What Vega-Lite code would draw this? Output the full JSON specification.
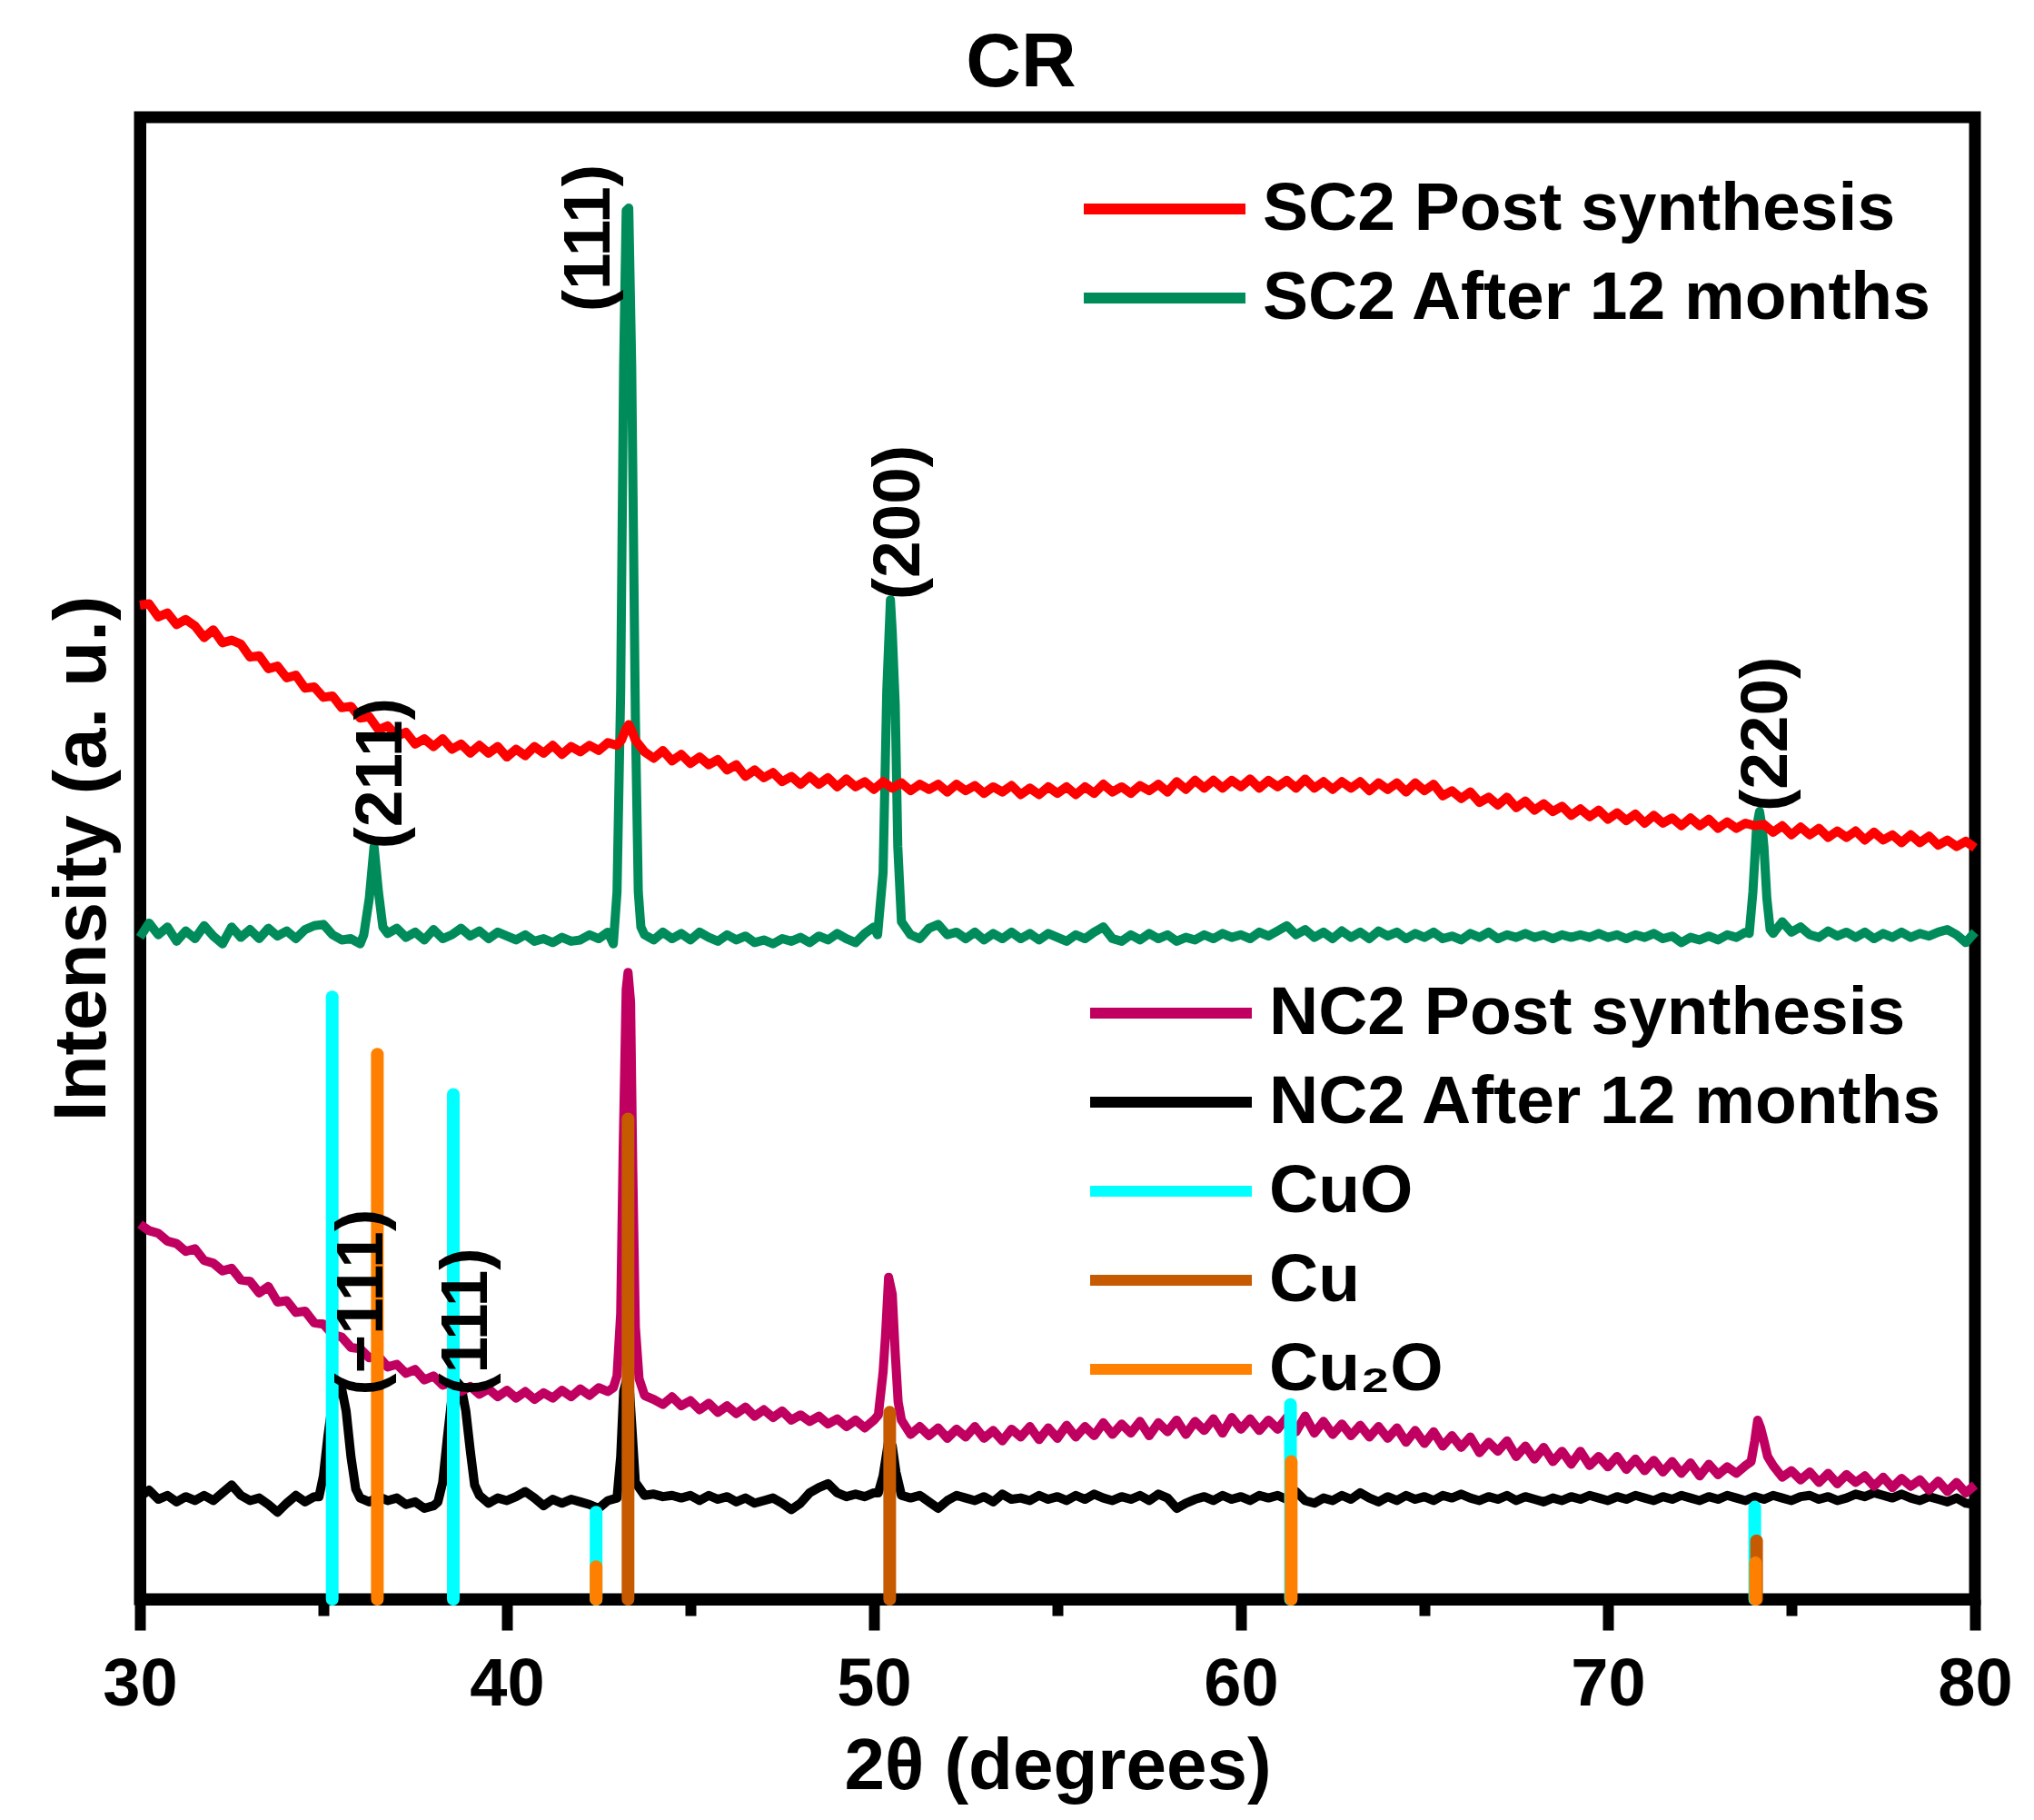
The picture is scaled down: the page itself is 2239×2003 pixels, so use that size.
{
  "$schema": "https://vega.github.io/schema/vega-lite/v6.json",
  "autosize": "none",
  "width": 2020,
  "height": 1631,
  "padding": {"left": 154, "top": 129, "right": 65, "bottom": 243},
  "background": "white",
  "title": {"text": "CR", "fontSize": 84, "fontWeight": "bold", "font": "Liberation Sans", "anchor": "middle", "color": "black", "offset": 16, "dx": -40},
  "config": {
    "font": "Liberation Sans",
    "view": {"stroke": "black", "strokeWidth": 13},
    "axis": {"grid": false, "domainColor": "black", "domainWidth": 13, "tickColor": "black", "labelColor": "black", "titleColor": "black", "labelFontWeight": "bold", "titleFontWeight": "bold"},
    "legend": {"orient": "none", "title": null, "symbolType": "M-1.854,0H1.854", "symbolSize": 9216, "symbolStrokeWidth": 12, "labelFontSize": 75, "labelFontWeight": "bold", "labelColor": "black", "labelOffset": 54, "labelLimit": 2000, "rowPadding": 6, "padding": 0}
  },
  "datasets": {
    "xrd": [
      {"t":30,"r":766,"g":510,"m":289,"k":79},{"t":30.25,"r":767,"g":521,"m":284,"k":84},{"t":30.5,"r":757,"g":512,"m":282,"k":77},{"t":30.75,"r":760,"g":518,"m":276,"k":80},
      {"t":31,"r":751,"g":507,"m":274,"k":75},{"t":31.25,"r":755,"g":515,"m":268,"k":79},{"t":31.5,"r":750,"g":509,"m":270,"k":76},{"t":31.75,"r":741,"g":519,"m":261,"k":80},
      {"t":32,"r":747,"g":511,"m":259,"k":76},{"t":32.25,"r":737,"g":505,"m":253,"k":82},{"t":32.5,"r":739,"g":518,"m":255,"k":88},{"t":32.75,"r":736,"g":510,"m":246,"k":80},
      {"t":33,"r":726,"g":516,"m":245,"k":76},{"t":33.25,"r":727,"g":509,"m":236,"k":78},{"t":33.5,"r":717,"g":517,"m":241,"k":73},{"t":33.75,"r":719,"g":511,"m":229,"k":67},
      {"t":34,"r":710,"g":515,"m":230,"k":74},{"t":34.25,"r":712,"g":509,"m":221,"k":80},{"t":34.5,"r":702,"g":516,"m":222,"k":75},{"t":34.75,"r":703,"g":519,"m":213,"k":79},
      {"t":35,"r":695,"g":520,"m":212,"k":95},{"t":35.25,"r":696,"g":512,"m":204,"k":152},{"t":35.5,"r":687,"g":508,"m":202,"k":162},{"t":35.75,"r":688,"g":509,"m":194,"k":110},
      {"t":36,"r":679,"g":505,"m":193,"k":78},{"t":36.25,"r":680,"g":540,"m":186,"k":75},{"t":36.5,"r":670,"g":545,"m":187,"k":79},{"t":36.75,"r":673,"g":513,"m":179,"k":76},
      {"t":37,"r":665,"g":517,"m":181,"k":78},{"t":37.25,"r":668,"g":510,"m":174,"k":73},{"t":37.5,"r":659,"g":514,"m":177,"k":75},{"t":37.75,"r":663,"g":508,"m":169,"k":70},
      {"t":38,"r":657,"g":516,"m":172,"k":72},{"t":38.25,"r":663,"g":509,"m":165,"k":90},{"t":38.5,"r":655,"g":512,"m":167,"k":155},{"t":38.75,"r":659,"g":517,"m":160,"k":164},
      {"t":39,"r":652,"g":511,"m":164,"k":115},{"t":39.25,"r":658,"g":515,"m":158,"k":80},{"t":39.5,"r":652,"g":509,"m":162,"k":74},{"t":39.75,"r":657,"g":514,"m":156,"k":78},
      {"t":40,"r":649,"g":511,"m":161,"k":76},{"t":40.25,"r":655,"g":508,"m":155,"k":79},{"t":40.5,"r":650,"g":512,"m":160,"k":83},{"t":40.75,"r":657,"g":507,"m":154,"k":78},
      {"t":41,"r":652,"g":509,"m":159,"k":72},{"t":41.25,"r":658,"g":506,"m":155,"k":77},{"t":41.5,"r":651,"g":510,"m":161,"k":74},{"t":41.75,"r":657,"g":507,"m":156,"k":77},
      {"t":42,"r":653,"g":508,"m":162,"k":75},{"t":42.25,"r":658,"g":512,"m":157,"k":73},{"t":42.5,"r":654,"g":509,"m":163,"k":70},{"t":42.75,"r":660,"g":514,"m":160,"k":76},
      {"t":43,"r":658,"g":545,"m":172,"k":78},{"t":43.25,"r":671,"g":1070,"m":470,"k":168},{"t":43.5,"r":662,"g":680,"m":210,"k":90},{"t":43.75,"r":653,"g":512,"m":157,"k":80},
      {"t":44,"r":648,"g":508,"m":154,"k":81},{"t":44.25,"r":654,"g":514,"m":150,"k":79},{"t":44.5,"r":646,"g":509,"m":156,"k":80},{"t":44.75,"r":651,"g":513,"m":149,"k":78},
      {"t":45,"r":644,"g":508,"m":153,"k":80},{"t":45.25,"r":649,"g":514,"m":146,"k":76},{"t":45.5,"r":643,"g":510,"m":151,"k":80},{"t":45.75,"r":647,"g":507,"m":144,"k":77},
      {"t":46,"r":639,"g":512,"m":149,"k":79},{"t":46.25,"r":643,"g":508,"m":143,"k":75},{"t":46.5,"r":634,"g":511,"m":148,"k":78},{"t":46.75,"r":639,"g":506,"m":141,"k":74},
      {"t":47,"r":633,"g":508,"m":146,"k":76},{"t":47.25,"r":637,"g":505,"m":140,"k":78},{"t":47.5,"r":630,"g":509,"m":145,"k":74},{"t":47.75,"r":634,"g":507,"m":138,"k":69},
      {"t":48,"r":628,"g":510,"m":142,"k":74},{"t":48.25,"r":634,"g":506,"m":137,"k":82},{"t":48.5,"r":628,"g":511,"m":141,"k":86},{"t":48.75,"r":633,"g":508,"m":135,"k":89},
      {"t":49,"r":626,"g":513,"m":139,"k":82},{"t":49.25,"r":632,"g":509,"m":133,"k":79},{"t":49.5,"r":626,"g":506,"m":138,"k":81},{"t":49.75,"r":630,"g":513,"m":132,"k":79},
      {"t":50,"r":624,"g":518,"m":138,"k":82},{"t":50.25,"r":630,"g":560,"m":175,"k":95},{"t":50.5,"r":625,"g":745,"m":235,"k":118},{"t":50.75,"r":629,"g":522,"m":138,"k":80},
      {"t":51,"r":623,"g":512,"m":127,"k":78},{"t":51.25,"r":628,"g":509,"m":133,"k":80},{"t":51.5,"r":624,"g":517,"m":126,"k":75},{"t":51.75,"r":628,"g":520,"m":132,"k":70},
      {"t":52,"r":622,"g":512,"m":124,"k":76},{"t":52.25,"r":628,"g":514,"m":131,"k":80},{"t":52.5,"r":623,"g":509,"m":125,"k":78},{"t":52.75,"r":627,"g":514,"m":133,"k":76},
      {"t":53,"r":621,"g":508,"m":124,"k":79},{"t":53.25,"r":626,"g":513,"m":130,"k":75},{"t":53.5,"r":622,"g":509,"m":122,"k":81},{"t":53.75,"r":627,"g":514,"m":131,"k":77},
      {"t":54,"r":620,"g":509,"m":125,"k":78},{"t":54.25,"r":625,"g":513,"m":133,"k":76},{"t":54.5,"r":620,"g":508,"m":123,"k":80},{"t":54.75,"r":626,"g":513,"m":132,"k":77},
      {"t":55,"r":621,"g":510,"m":124,"k":79},{"t":55.25,"r":626,"g":507,"m":134,"k":76},{"t":55.5,"r":620,"g":512,"m":125,"k":80},{"t":55.75,"r":626,"g":509,"m":133,"k":77},
      {"t":56,"r":621,"g":514,"m":126,"k":81},{"t":56.25,"r":628,"g":518,"m":136,"k":78},{"t":56.5,"r":622,"g":509,"m":127,"k":76},{"t":56.75,"r":626,"g":507,"m":135,"k":79},
      {"t":57,"r":621,"g":512,"m":128,"k":77},{"t":57.25,"r":627,"g":508,"m":137,"k":80},{"t":57.5,"r":623,"g":513,"m":126,"k":76},{"t":57.75,"r":628,"g":509,"m":136,"k":81},
      {"t":58,"r":622,"g":512,"m":129,"k":78},{"t":58.25,"r":630,"g":507,"m":138,"k":70},{"t":58.5,"r":624,"g":510,"m":127,"k":74},{"t":58.75,"r":631,"g":508,"m":137,"k":77},
      {"t":59,"r":625,"g":512,"m":130,"k":79},{"t":59.25,"r":631,"g":509,"m":139,"k":76},{"t":59.5,"r":625,"g":513,"m":128,"k":80},{"t":59.75,"r":631,"g":510,"m":140,"k":77},
      {"t":60,"r":626,"g":512,"m":131,"k":79},{"t":60.25,"r":632,"g":509,"m":139,"k":76},{"t":60.5,"r":625,"g":514,"m":130,"k":80},{"t":60.75,"r":631,"g":511,"m":138,"k":78},
      {"t":61,"r":626,"g":515,"m":131,"k":80},{"t":61.25,"r":631,"g":519,"m":140,"k":77},{"t":61.5,"r":625,"g":512,"m":129,"k":83},{"t":61.75,"r":632,"g":516,"m":141,"k":76},
      {"t":62,"r":625,"g":510,"m":128,"k":74},{"t":62.25,"r":630,"g":514,"m":137,"k":78},{"t":62.5,"r":624,"g":509,"m":127,"k":76},{"t":62.75,"r":630,"g":515,"m":135,"k":80},
      {"t":63,"r":625,"g":510,"m":126,"k":77},{"t":63.25,"r":630,"g":514,"m":134,"k":82},{"t":63.5,"r":623,"g":509,"m":125,"k":78},{"t":63.75,"r":629,"g":515,"m":133,"k":75},
      {"t":64,"r":624,"g":511,"m":124,"k":79},{"t":64.25,"r":629,"g":514,"m":132,"k":76},{"t":64.5,"r":622,"g":509,"m":121,"k":80},{"t":64.75,"r":629,"g":513,"m":130,"k":77},
      {"t":65,"r":623,"g":510,"m":120,"k":79},{"t":65.25,"r":628,"g":514,"m":129,"k":76},{"t":65.5,"r":619,"g":509,"m":118,"k":80},{"t":65.75,"r":623,"g":511,"m":126,"k":78},
      {"t":66,"r":617,"g":508,"m":117,"k":81},{"t":66.25,"r":622,"g":513,"m":125,"k":78},{"t":66.5,"r":614,"g":510,"m":113,"k":76},{"t":66.75,"r":618,"g":514,"m":121,"k":79},
      {"t":67,"r":612,"g":509,"m":114,"k":77},{"t":67.25,"r":618,"g":512,"m":122,"k":80},{"t":67.5,"r":610,"g":510,"m":110,"k":76},{"t":67.75,"r":615,"g":513,"m":118,"k":79},
      {"t":68,"r":608,"g":510,"m":108,"k":77},{"t":68.25,"r":613,"g":512,"m":117,"k":75},{"t":68.5,"r":607,"g":509,"m":106,"k":78},{"t":68.75,"r":611,"g":512,"m":114,"k":76},
      {"t":69,"r":604,"g":510,"m":104,"k":79},{"t":69.25,"r":609,"g":512,"m":114,"k":77},{"t":69.5,"r":603,"g":510,"m":103,"k":80},{"t":69.75,"r":608,"g":513,"m":110,"k":78},
      {"t":70,"r":601,"g":510,"m":102,"k":76},{"t":70.25,"r":606,"g":512,"m":110,"k":79},{"t":70.5,"r":600,"g":509,"m":100,"k":77},{"t":70.75,"r":605,"g":512,"m":108,"k":80},
      {"t":71,"r":598,"g":510,"m":99,"k":78},{"t":71.25,"r":604,"g":513,"m":107,"k":76},{"t":71.5,"r":598,"g":509,"m":98,"k":79},{"t":71.75,"r":602,"g":511,"m":106,"k":77},
      {"t":72,"r":596,"g":506,"m":97,"k":80},{"t":72.25,"r":602,"g":510,"m":105,"k":78},{"t":72.5,"r":596,"g":508,"m":95,"k":76},{"t":72.75,"r":601,"g":511,"m":104,"k":79},
      {"t":73,"r":594,"g":508,"m":96,"k":77},{"t":73.25,"r":599,"g":512,"m":102,"k":80},{"t":73.5,"r":594,"g":510,"m":97,"k":78},{"t":73.75,"r":598,"g":514,"m":103,"k":76},
      {"t":74,"r":596,"g":570,"m":122,"k":79},{"t":74.25,"r":597,"g":580,"m":122,"k":77},{"t":74.5,"r":591,"g":513,"m":103,"k":80},{"t":74.75,"r":596,"g":522,"m":94,"k":78},
      {"t":75,"r":589,"g":514,"m":99,"k":76},{"t":75.25,"r":595,"g":518,"m":92,"k":79},{"t":75.5,"r":589,"g":512,"m":98,"k":80},{"t":75.75,"r":594,"g":510,"m":90,"k":77},
      {"t":76,"r":587,"g":515,"m":97,"k":79},{"t":76.25,"r":592,"g":511,"m":89,"k":76},{"t":76.5,"r":587,"g":514,"m":96,"k":78},{"t":76.75,"r":592,"g":510,"m":90,"k":81},
      {"t":77,"r":585,"g":514,"m":95,"k":79},{"t":77.25,"r":591,"g":509,"m":87,"k":82},{"t":77.5,"r":585,"g":513,"m":94,"k":80},{"t":77.75,"r":589,"g":510,"m":86,"k":78},
      {"t":78,"r":583,"g":514,"m":93,"k":81},{"t":78.25,"r":589,"g":510,"m":87,"k":78},{"t":78.5,"r":583,"g":513,"m":92,"k":76},{"t":78.75,"r":588,"g":511,"m":84,"k":79},
      {"t":79,"r":581,"g":514,"m":91,"k":77},{"t":79.25,"r":585,"g":516,"m":83,"k":75},{"t":79.5,"r":580,"g":512,"m":90,"k":78},{"t":79.75,"r":584,"g":506,"m":82,"k":74},
      {"t":80,"r":579,"g":514,"m":88,"k":73},
      {"t":43.12,"r":662},{"t":43.32,"r":674},{"t":43.42,"r":668},
      {"t":36.1,"g":512},{"t":36.38,"g":580},{"t":36.62,"g":518},
      {"t":42.9,"g":505},{"t":43.1,"g":700},{"t":43.18,"g":950},{"t":43.32,"g":1072},{"t":43.4,"g":950},{"t":43.58,"g":545},{"t":43.65,"g":518},
      {"t":50.1,"g":512},{"t":50.35,"g":700},{"t":50.45,"g":770},{"t":50.58,"g":690},{"t":50.65,"g":580},
      {"t":73.85,"g":513},{"t":73.95,"g":545},{"t":74.05,"g":595},{"t":74.13,"g":607},{"t":74.2,"g":595},{"t":74.33,"g":540},{"t":74.42,"g":516},
      {"t":42.9,"m":163},{"t":43.1,"m":220},{"t":43.17,"m":350},{"t":43.3,"m":483},{"t":43.37,"m":460},{"t":43.43,"m":330},{"t":43.6,"m":170},
      {"t":50.12,"m":142},{"t":50.32,"m":205},{"t":50.4,"m":248},{"t":50.58,"m":190},{"t":50.66,"m":152},
      {"t":73.9,"m":106},{"t":74.08,"m":138},{"t":74.16,"m":132},{"t":74.35,"m":110},
      {"t":34.88,"k":79},{"t":35.12,"k":125},{"t":35.4,"k":166},{"t":35.62,"k":145},{"t":35.88,"k":85},
      {"t":38.12,"k":75},{"t":38.38,"k":125},{"t":38.62,"k":168},{"t":38.88,"k":145},{"t":39.12,"k":88},
      {"t":43.1,"k":110},{"t":43.18,"k":160},{"t":43.32,"k":170},{"t":43.4,"k":135},
      {"t":50.12,"k":82},{"t":50.4,"k":122},{"t":50.6,"k":98}
    ],
    "ref": [
      {"t":35.24,"h":464,"s":"CuO"},{"t":38.54,"h":389,"s":"CuO"},{"t":42.43,"h":67,"s":"CuO"},{"t":61.35,"h":150,"s":"CuO"},{"t":74.0,"h":71,"s":"CuO"},
      {"t":43.3,"h":370,"s":"Cu"},{"t":50.43,"h":144,"s":"Cu"},{"t":74.05,"h":45,"s":"Cu"},
      {"t":36.47,"h":420,"s":"Cu₂O"},{"t":42.43,"h":25,"s":"Cu₂O"},{"t":61.37,"h":106,"s":"Cu₂O"},{"t":74.02,"h":28,"s":"Cu₂O"}
    ],
    "hkl": [
      {"t":36.58,"h":578,"lab":"(211)"},{"t":42.26,"h":992,"lab":"(111)"},{"t":50.7,"h":770,"lab":"(200)"},{"t":74.34,"h":607,"lab":"(220)"},
      {"t":36.06,"h":157,"lab":"(−111)"},{"t":38.9,"h":157,"lab":"(111)"}
    ]
  },
  "layer": [
    {
      "data": {"name": "xrd"},
      "transform": [{"fold": ["g", "r"], "as": ["s", "i"]}, {"filter": "isValid(datum.i)"}],
      "mark": {"type": "line", "strokeWidth": 10, "strokeJoin": "round"},
      "encoding": {
        "x": {"field": "t", "type": "quantitative", "title": "2θ (degrees)", "scale": {"domain": [30, 80], "nice": false, "zero": false},
          "axis": {"values": [30, 35, 40, 45, 50, 55, 60, 65, 70, 75, 80], "labelExpr": "datum.value % 10 === 0 ? datum.label : ''",
            "tickSize": {"condition": {"test": "datum.value % 10 === 0", "value": 34}, "value": 18}, "tickWidth": 12,
            "labelFontSize": 74, "labelPadding": 24, "labelFlush": false, "labelOverlap": false, "titleFontSize": 80, "titlePadding": 14}},
        "y": {"field": "i", "type": "quantitative", "title": "Intensity (a. u.)", "scale": {"domain": [0, 1142], "nice": false, "zero": false},
          "axis": {"labels": false, "ticks": false, "titleFontSize": 82, "titlePadding": 22}},
        "stroke": {"field": "s", "type": "nominal", "scale": {"domain": ["r", "g"], "range": ["#FF0000", "#008C5A"]},
          "legend": {"legendX": 1074, "legendY": 47, "labelExpr": "datum.label == 'r' ? 'SC2 Post synthesis' : 'SC2 After 12 months'"}}
      }
    },
    {
      "data": {"name": "xrd"},
      "transform": [{"fold": ["k", "m"], "as": ["s", "i"]}, {"filter": "isValid(datum.i)"}],
      "mark": {"type": "line", "strokeWidth": 10, "strokeJoin": "round"},
      "encoding": {
        "x": {"field": "t", "type": "quantitative", "title": "2θ (degrees)", "scale": {"domain": [30, 80], "nice": false, "zero": false}},
        "y": {"field": "i", "type": "quantitative", "title": "Intensity (a. u.)", "scale": {"domain": [0, 1142], "nice": false, "zero": false}},
        "color": {"field": "s", "type": "nominal", "scale": {"domain": ["m", "k", "CuO", "Cu", "Cu₂O"], "range": ["#C00060", "#000000", "#00FFFF", "#C65A00", "#FF8000"]},
          "legend": {"legendX": 1081, "legendY": 932, "labelExpr": "datum.label == 'm' ? 'NC2 Post synthesis' : datum.label == 'k' ? 'NC2 After 12 months' : datum.label"}}
      }
    },
    {
      "data": {"name": "ref"},
      "mark": {"type": "rule", "strokeWidth": 14, "strokeCap": "round"},
      "encoding": {
        "x": {"field": "t", "type": "quantitative", "title": "2θ (degrees)", "scale": {"domain": [30, 80], "nice": false, "zero": false}},
        "y": {"field": "h", "type": "quantitative", "title": "Intensity (a. u.)", "scale": {"domain": [0, 1142], "nice": false, "zero": false}},
        "y2": {"datum": 0},
        "color": {"field": "s", "type": "nominal"}
      }
    },
    {
      "data": {"name": "hkl"},
      "mark": {"type": "text", "angle": 270, "align": "left", "baseline": "middle", "fontSize": 73, "fontWeight": "bold", "color": "black"},
      "encoding": {
        "x": {"field": "t", "type": "quantitative", "title": "2θ (degrees)", "scale": {"domain": [30, 80], "nice": false, "zero": false}},
        "y": {"field": "h", "type": "quantitative", "title": "Intensity (a. u.)", "scale": {"domain": [0, 1142], "nice": false, "zero": false}},
        "text": {"field": "lab"}
      }
    }
  ]
}
